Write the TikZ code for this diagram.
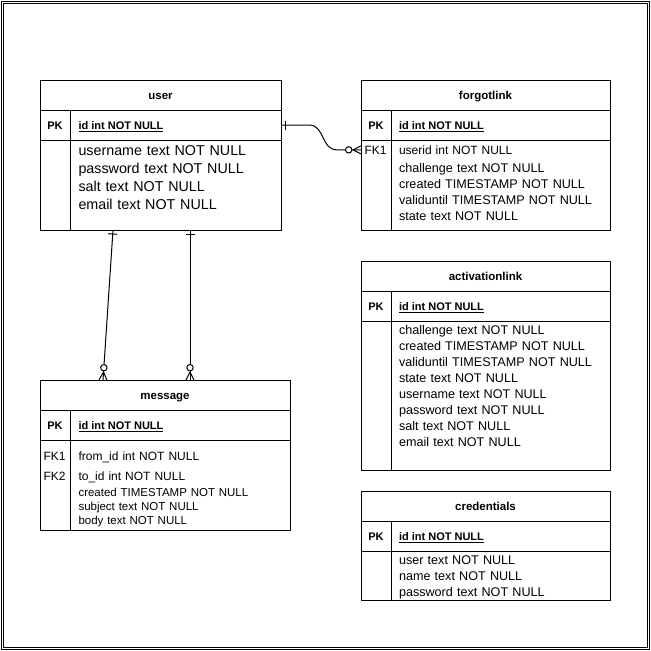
\documentclass[tikz,border=0pt]{standalone}
\usepackage{fontspec}
\setmainfont{Liberation Sans}
\usetikzlibrary{decorations.markings}
\tikzset{
	every path/.style={line width=1pt},
	entity/.style={
		draw,
		rectangle,
		anchor=north west,
		inner sep=0pt,
		outer sep=0pt,
	},
	tabletitle/.style={
		entity,
		minimum height=30pt,
		text height=8pt,
		text depth=0pt,
		font=\fontsize{11.5pt}{14pt}\selectfont\bfseries
	},
	keyrow/.style={entity, minimum height=30pt},
	keylabel/.style={anchor=base, inner sep=0pt, font=\fontsize{11pt}{13pt}\selectfont\bfseries},
	keyfield/.style={anchor=base west, inner sep=0pt, font=\fontsize{11pt}{13pt}\selectfont\bfseries},
	fklabel/.style={anchor=base west, inner sep=0pt, font=\fontsize{12pt}{14pt}\selectfont},
	fields/.style={
		anchor=base west,
		inner sep=0pt,
		text width=205pt,
		align=left,
		font=\fontsize{12.6pt}{16pt}\selectfont
	},
	one end/.style={
		postaction={decorate, decoration={markings,
			mark=at position 4pt with {\draw (0pt,-4.5pt) -- (0pt,4.5pt);}}}
	},
	many end/.style={
		postaction={decorate, decoration={markings,
			mark=at position 1 with {
				\draw (-8pt,0pt) -- (0pt,4pt) (-8pt,0pt) -- (0pt,-4pt);
				\draw[fill=white] (-12.3pt,0pt) circle (3.2pt);}}}
	},
}

\begin{document}
\begin{tikzpicture}[x=1pt, y=-1pt]
	\useasboundingbox (0,0) rectangle (651,651);
	\draw[line width=1.2pt, double, double distance=1.2pt] (2.4,2.4) rectangle (648.6,648.6);

	% user
	\node[tabletitle, minimum width=241pt] (user) at (40,80) {user};
	\node[keyrow, minimum width=241pt] (userpk) at (40,110) {};
	\node[entity, minimum width=241pt, minimum height=90pt] (userbody) at (40,140) {};
	\draw (70,110) -- (70,230);
	\node[keylabel] (userpkl) at (55,129.5) {PK};
	\node[keyfield] (userid) at (78,129.5) {\underline{id int NOT NULL}};
	\node[fields, font=\fontsize{14.3pt}{18pt}\selectfont] (userfields) at (78,155) {username text NOT NULL\\password text NOT NULL\\salt text NOT NULL\\email text NOT NULL};

	% forgotlink
	\node[tabletitle, minimum width=249pt] (forgot) at (361,80) {forgotlink};
	\node[keyrow, minimum width=249pt] (forgotpk) at (361,110) {};
	\node[entity, minimum width=249pt, minimum height=90pt] (forgotbody) at (361,140) {};
	\draw (391,110) -- (391,230);
	\node[keylabel] (forgotpkl) at (376,129.5) {PK};
	\node[keyfield] (forgotid) at (398.5,129.5) {\underline{id int NOT NULL}};
	\node[fklabel] (forgotfk) at (364,154) {FK1};
	\node[fields, font=\fontsize{12pt}{16pt}\selectfont] (forgotuserid) at (398.5,154) {userid int NOT NULL};
	\node[fields] (forgotfields) at (398.5,172) {challenge text NOT NULL\\created TIMESTAMP NOT NULL\\validuntil TIMESTAMP NOT NULL\\state text NOT NULL};

	% activationlink
	\node[tabletitle, minimum width=249pt] (activation) at (361,261) {activationlink};
	\node[keyrow, minimum width=249pt] (activationpk) at (361,291) {};
	\node[entity, minimum width=249pt, minimum height=149pt] (activationbody) at (361,321) {};
	\draw (391,291) -- (391,470);
	\node[keylabel] (activationpkl) at (376,310.5) {PK};
	\node[keyfield] (activationid) at (398.5,310.5) {\underline{id int NOT NULL}};
	\node[fields] (activationfields) at (398.5,334) {challenge text NOT NULL\\created TIMESTAMP NOT NULL\\validuntil TIMESTAMP NOT NULL\\state text NOT NULL\\username text NOT NULL\\password text NOT NULL\\salt text NOT NULL\\email text NOT NULL};

	% credentials
	\node[tabletitle, minimum width=249pt] (credentials) at (361,491) {credentials};
	\node[keyrow, minimum width=249pt] (credentialspk) at (361,521) {};
	\node[entity, minimum width=249pt, minimum height=49pt] (credentialsbody) at (361,551) {};
	\draw (391,521) -- (391,600);
	\node[keylabel] (credentialspkl) at (376,540.5) {PK};
	\node[keyfield] (credentialsid) at (398.5,540.5) {\underline{id int NOT NULL}};
	\node[fields] (credentialsfields) at (398.5,564) {user text NOT NULL\\name text NOT NULL\\password text NOT NULL};

	% message
	\node[tabletitle, minimum width=250pt] (message) at (40,380) {message};
	\node[keyrow, minimum width=250pt] (messagepk) at (40,410) {};
	\node[entity, minimum width=250pt, minimum height=90pt] (messagebody) at (40,440) {};
	\draw (70,410) -- (70,530);
	\node[keylabel] (messagepkl) at (55,429.5) {PK};
	\node[keyfield] (messageid) at (78,429.5) {\underline{id int NOT NULL}};
	\node[fklabel] (messagefka) at (43,460) {FK1};
	\node[fklabel] (messagefkb) at (43,480) {FK2};
	\node[fields, font=\fontsize{12pt}{16pt}\selectfont] (messagefrom) at (78,460) {from\_id int NOT NULL};
	\node[fields, font=\fontsize{12pt}{16pt}\selectfont] (messageto) at (78,480) {to\_id int NOT NULL};
	\node[fields, font=\fontsize{11.5pt}{14pt}\selectfont] (messagefields) at (78,496.5) {created TIMESTAMP NOT NULL\\subject text NOT NULL\\body text NOT NULL};

	% relations
	\draw[one end, many end] (userpk.east) -- ++(28,0)
		.. controls +(16,0) and +(-16,0) .. ([xshift=-24pt]forgotfk.west -| forgotbody.west)
		-- (forgotfk.west -| forgotbody.west);
	\draw[one end, many end] ([xshift=73pt]userbody.south west) -- ([xshift=63pt]message.north west);
	\draw[one end, many end] ([xshift=150pt]userbody.south west) -- ([xshift=150pt]message.north west);
\end{tikzpicture}
\end{document}
